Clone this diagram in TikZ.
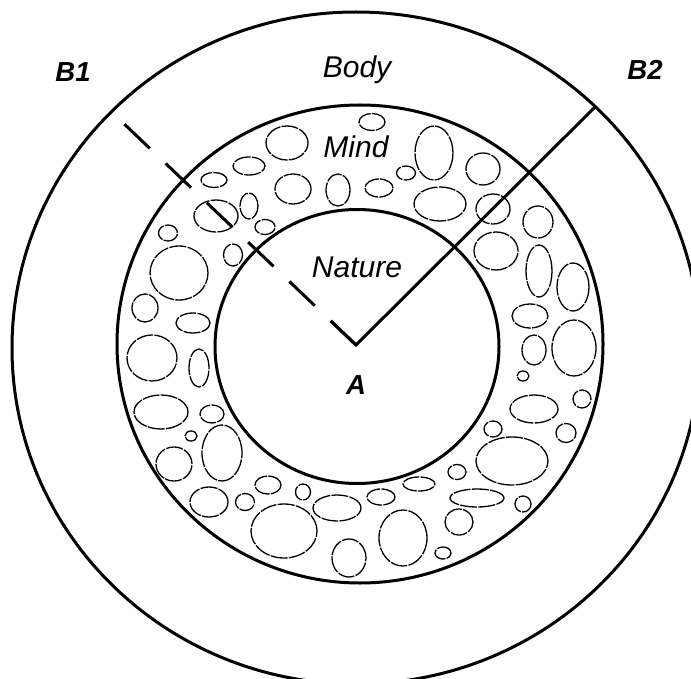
\documentclass[tikz,border=0pt]{standalone}
\usepackage{fontspec}
\usetikzlibrary{calc}
\newfontfamily\labfont{Liberation Sans}
\begin{document}
\begin{tikzpicture}[x=1pt,y=-1pt,
  ring/.style={line width=3pt},
  cell/.style={line width=1.3pt, dash pattern=on 17pt off 1.3pt},
  vline/.style={line width=3pt, line join=miter},
  lab/.style={font=\labfont\itshape\fontsize{30}{36}\selectfont, anchor=base, inner sep=0pt},
  blab/.style={font=\labfont\bfseries\itshape\fontsize{27.5}{32}\selectfont, anchor=base, inner sep=0pt}]
\useasboundingbox (0,0) rectangle (691,679);
\clip (0,0) rectangle (691,679);
\fill[white] (0,0) rectangle (691,679);
% rings
\draw[ring] (356,348) ellipse [x radius=344pt, y radius=336pt];
\draw[ring] (360,344) ellipse [x radius=243pt, y radius=239pt];
\draw[ring] (357,346.5) ellipse [x radius=142pt, y radius=137pt];
% cells of the mind ring
\foreach \px/\py/\rx/\ry in {
 287/143/21/17, 249/166/16/9, 214/180/13/7.5, 293/189/18/15, 338/190/12/16,
 216/216/22/16, 249/206/9/13, 265/227/10/7.5, 168/233/9.5/8, 233/255/9.5/11,
 179/273/29/27, 145/308/13/14, 193/323/17/10, 372/122/13/8.5, 434/153/19/27,
 483/169/17/16, 406/173/9.5/7, 379/188/14/9, 440/204/26/17, 493/209/17/15,
 538/222/15/16, 496/251/22/19, 539/271/13/26, 573/287/16/24, 530/316/18/12,
 534/350/12/15, 574/348/22/28, 523/376/6/5, 534/409/24/14, 582/399/9/9,
 493/429/9/8, 566/433/10/9.5, 512/461/36/24, 457/472/9/7.5, 419/484/16/7,
 477/498/27/9, 523/504/8/8, 459/522/14/13, 403/538/24/28, 443/553/8/6,
 152/358/25/23, 199/368/10/19, 161/412/27/17, 212/414/12/9, 191/436/6/5,
 222/453/20/28, 174/464/18/17, 209/502/19/15, 268/485/13/9, 245/502/9.5/8.5,
 303/492/7.5/8, 284/531/33/27, 337/508/24/13, 381/497/14/8, 349/558/17/19}
 \draw[cell] (\px,\py) ellipse [x radius=\rx pt, y radius=\ry pt];
% the two lines from A
\coordinate (A) at (356,345);
\coordinate (B1e) at (119,119);
\coordinate (B2e) at (596,106);
\draw[vline] ($(A)!35pt!(B1e)$) -- (A) -- (B2e);
\draw[vline, dash pattern=on 35pt off 22pt] (A) -- (B1e);
% labels
\node[lab] (body) at (357,78) {Body};
\node[lab] (mind) at (356,158) {Mind};
\node[lab] (nature) at (357,277) {Nature};
\node[blab] (a) at (356,394) {A};
\node[blab] (b1) at (73,82) {B1};
\node[blab] (b2) at (645,80) {B2};
\end{tikzpicture}
\end{document}
